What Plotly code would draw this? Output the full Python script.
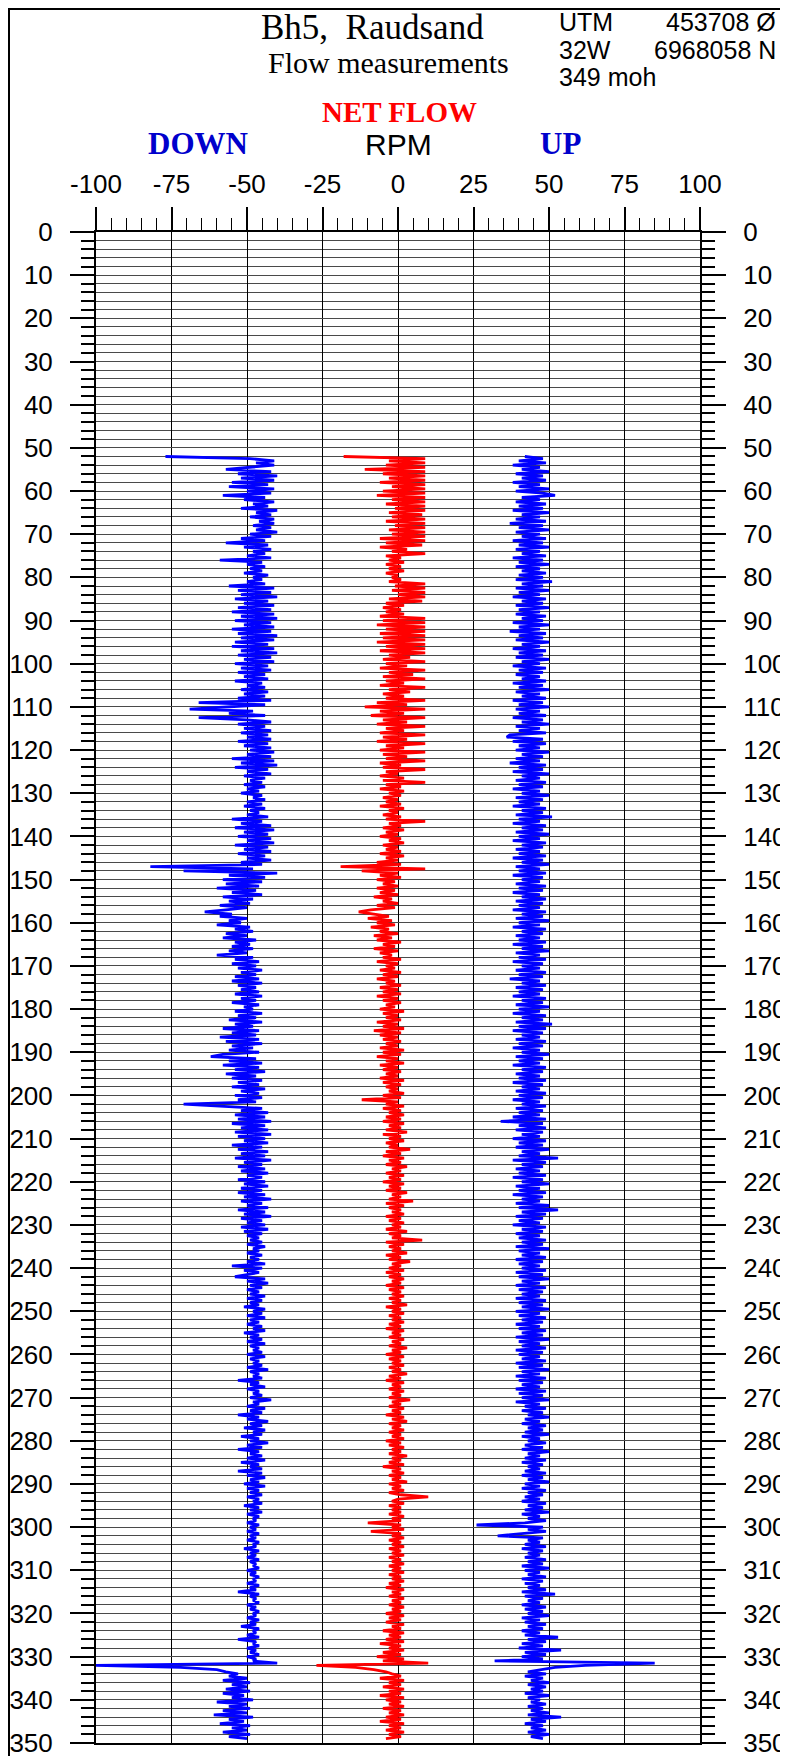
import plotly.graph_objects as go

# depth sampling of the logs (m)
depth_start = 52.0
depth_step = 0.5

# DOWN flow, RPM
down_rpm = [
    -77, -49, -41, -47, -41, -49, -57, -42, -53, -40,
    -52, -41, -55, -43, -56, -41, -50, -42, -58, -44,
    -51, -41, -48, -43, -52, -40, -47, -42, -49, -41,
    -46, -41, -48, -42, -47, -40, -49, -42, -52, -44,
    -57, -43, -51, -42, -48, -44, -50, -42, -59, -45,
    -50, -44, -49, -45, -51, -43, -48, -45, -50, -44,
    -56, -41, -53, -42, -52, -40, -54, -43, -51, -41,
    -53, -42, -55, -41, -52, -40, -54, -42, -51, -41,
    -55, -42, -53, -40, -52, -41, -54, -43, -55, -41,
    -52, -40, -53, -42, -51, -41, -54, -43, -52, -42,
    -53, -44, -51, -43, -54, -45, -50, -44, -52, -43,
    -51, -44, -53, -42, -66, -44, -55, -69, -48, -56,
    -44, -66, -50, -42, -53, -44, -51, -42, -52, -43,
    -50, -42, -53, -43, -51, -42, -49, -41, -50, -42,
    -55, -41, -52, -40, -54, -43, -50, -42, -51, -44,
    -49, -45, -51, -44, -50, -46, -52, -45, -48, -44,
    -50, -45, -51, -44, -49, -46, -50, -43, -55, -45,
    -52, -42, -54, -41, -51, -43, -53, -42, -50, -41,
    -54, -43, -51, -42, -53, -44, -50, -42, -52, -45,
    -82, -48, -71, -40, -56, -44, -58, -45, -57, -46,
    -60, -47, -55, -45, -58, -48, -56, -49, -59, -50,
    -57, -64, -55, -59, -50, -56, -52, -60, -49, -54,
    -48, -57, -50, -58, -47, -54, -49, -55, -48, -56,
    -50, -60, -48, -54, -46, -55, -47, -53, -45, -52,
    -47, -54, -46, -55, -45, -53, -47, -52, -46, -54,
    -45, -52, -47, -55, -46, -51, -48, -54, -45, -53,
    -47, -56, -45, -54, -48, -58, -46, -55, -47, -59,
    -46, -57, -45, -55, -48, -56, -46, -58, -62, -47,
    -56, -45, -58, -46, -54, -44, -57, -47, -55, -45,
    -53, -46, -55, -44, -52, -46, -54, -45, -53, -47,
    -71, -58, -45, -52, -43, -54, -44, -53, -42, -55,
    -44, -52, -43, -54, -42, -53, -44, -51, -43, -55,
    -45, -53, -43, -52, -44, -54, -42, -51, -45, -53,
    -44, -52, -43, -50, -45, -53, -44, -51, -43, -52,
    -45, -53, -44, -51, -42, -52, -45, -50, -43, -53,
    -44, -51, -42, -52, -45, -50, -44, -52, -43, -51,
    -45, -50, -46, -49, -45, -50, -44, -48, -46, -50,
    -45, -49, -46, -50, -44, -55, -45, -51, -46, -50,
    -54, -44, -50, -43, -49, -45, -50, -46, -49, -44,
    -50, -45, -49, -46, -51, -44, -48, -45, -50, -44,
    -49, -46, -50, -45, -48, -44, -51, -46, -49, -45,
    -50, -44, -49, -46, -48, -45, -50, -44, -49, -46,
    -48, -45, -50, -43, -49, -46, -48, -45, -53, -46,
    -49, -44, -50, -46, -48, -45, -49, -42, -48, -46,
    -50, -44, -49, -45, -53, -46, -50, -43, -49, -45,
    -51, -44, -48, -45, -52, -46, -49, -43, -50, -45,
    -53, -46, -49, -45, -50, -44, -52, -46, -49, -45,
    -53, -45, -50, -44, -49, -46, -51, -44, -50, -46,
    -49, -45, -50, -46, -48, -45, -51, -46, -49, -45,
    -50, -46, -48, -47, -50, -46, -49, -47, -50, -46,
    -49, -47, -50, -46, -48, -47, -51, -46, -49, -47,
    -50, -46, -49, -47, -48, -46, -50, -47, -49, -46,
    -48, -47, -50, -46, -49, -47, -53, -46, -49, -47,
    -48, -46, -50, -47, -49, -46, -48, -47, -50, -46,
    -49, -47, -52, -46, -48, -47, -50, -46, -53, -47,
    -48, -46, -50, -47, -49, -46, -50, -47, -48, -40,
    -100, -72, -60, -57, -53, -56, -50, -58, -49, -55,
    -50, -57, -49, -58, -51, -55, -48, -60, -50, -56,
    -49, -58, -50, -61, -48, -56, -51, -59, -49, -55,
    -50, -58, -49, -56, -50,
]

# NET FLOW, RPM
net_rpm = [
    -18, 9, -3, 9, -4, 9, -11, 9, -5, 9,
    -3, 9, -6, 9, -2, 9, -5, 9, -7, 9,
    -2, 9, -4, 9, -1, 9, -3, 8, -2, 9,
    -4, 9, -1, 9, -3, 9, -2, 9, -6, 9,
    -4, 8, -6, 3, -2, 9, -4, 1, -3, 2,
    -4, 1, -3, 2, -4, 0, -2, 1, -3, 9,
    -1, 9, -2, 9, 0, 9, -3, 8, -4, 2,
    -5, 1, -4, 2, -6, 9, -5, 9, -7, 9,
    -4, 9, -6, 9, -5, 9, -7, 9, -4, 9,
    -6, 9, -3, 4, -5, 9, -4, 3, -6, 9,
    -3, 5, -5, 9, -4, 2, -6, 9, -3, 4,
    -5, 2, -4, 9, -7, 3, -11, 9, -6, 2,
    -9, 9, -5, 3, -7, 9, -4, 2, -6, 9,
    -5, 3, -7, 9, -4, 2, -6, 9, -5, 3,
    -4, 9, -6, 1, -5, 9, -4, 0, -6, 2,
    -5, 9, -4, 1, -6, 2, -3, 1, -5, 0,
    -4, 1, -6, 2, -3, 0, -5, 1, -4, 9,
    -3, 1, -5, 2, -4, 0, -6, 1, -3, 2,
    -5, 0, -4, 1, -6, 2, -4, 0, -7, 1,
    -19, 9, -12, 0, -6, 1, -7, -1, -5, 0,
    -7, -1, -6, 0, -8, -2, -5, 0, -7, -1,
    -9, -13, -8, -3, -10, -2, -7, -1, -9, -3,
    -6, 0, -8, -2, -7, 1, -5, -1, -8, 0,
    -6, -2, -5, 1, -7, 0, -4, -1, -6, 1,
    -5, 0, -7, -1, -4, 1, -6, 0, -5, 1,
    -7, 0, -5, 1, -4, -1, -6, 2, -5, 0,
    -4, 1, -7, 0, -5, 2, -8, 1, -6, 0,
    -5, 1, -4, 0, -6, 2, -5, 1, -7, 0,
    -4, 2, -6, 0, -5, 1, -4, 0, -6, 2,
    -5, 1, -4, 0, -3, 2, -5, 1, -12, 0,
    -4, 2, -5, 1, -3, 2, -4, 1, -5, 2,
    -3, 1, -4, 3, -5, 1, -3, 2, -4, 0,
    -3, 4, -4, 1, -5, 2, -3, 1, -4, 3,
    -2, 1, -4, 2, -3, 1, -5, 2, -3, 1,
    -4, 3, -2, 1, -3, 5, -4, 2, -3, 1,
    -2, 2, -4, 1, -3, 2, -2, 1, -4, 3,
    -3, 1, -2, 8, -4, 2, -3, 1, -2, 3,
    -4, 1, -3, 4, -2, 1, -3, 2, -4, 1,
    -3, 2, -2, 1, -4, 2, -3, 1, -2, 2,
    -3, 1, -2, 3, -4, 1, -2, 2, -3, 1,
    -2, 2, -3, 1, -4, 2, -2, 1, -3, 2,
    -2, 1, -3, 3, -2, 1, -4, 2, -3, 1,
    -2, 2, -3, 1, -2, 3, -3, 1, -4, 2,
    -2, 1, -3, 2, -2, 1, -3, 4, -2, 1,
    -3, 2, -2, 1, -4, 2, -2, 3, -3, 1,
    -2, 2, -3, 1, -2, 2, -4, 1, -3, 2,
    -2, 1, -3, 3, -2, 1, -3, 2, -5, 1,
    -2, 2, -3, 1, -2, 3, -3, 1, -2, 2,
    -3, 1, 10, 0, -2, 2, -3, 1, -2, 1,
    -3, 2, -2, 1, -10, 1, -2, 2, -9, 1,
    -2, 2, -3, 1, -2, 2, -3, 1, -2, 2,
    -3, 1, -2, 2, -3, 1, -2, 2, -3, 1,
    -2, 2, -3, 1, -4, 2, -2, 1, -3, 2,
    -2, 1, -3, 2, -2, 1, -4, 2, -3, 1,
    -4, 2, -2, 1, -5, 2, -3, 1, -4, 2,
    -6, 1, -3, 2, -5, 1, -7, 2, -5, 10,
    -27, -14, -8, -4, -2, 1, -6, 2, -3, 1,
    -5, 2, -3, 1, -6, 2, -4, 1, -3, 2,
    -5, 1, -3, 2, -4, 1, -6, 2, -3, 1,
    -4, 2, -3, 1, -4,
]

# UP flow, RPM
up_rpm = [
    42, 48, 40, 49, 38, 47, 41, 50, 39, 48,
    41, 49, 38, 47, 40, 50, 39, 48, 52, 41,
    47, 39, 49, 40, 48, 38, 50, 41, 47, 39,
    49, 37, 48, 40, 50, 39, 47, 41, 49, 38,
    48, 40, 50, 39, 47, 41, 49, 38, 48, 40,
    50, 39, 47, 41, 49, 40, 48, 39, 51, 41,
    48, 39, 50, 40, 47, 38, 49, 41, 48, 39,
    50, 40, 47, 39, 49, 41, 48, 38, 50, 40,
    47, 37, 49, 40, 48, 39, 50, 41, 47, 38,
    49, 40, 48, 39, 50, 41, 47, 38, 49, 40,
    48, 39, 47, 41, 49, 38, 48, 40, 50, 39,
    47, 41, 49, 38, 48, 40, 50, 39, 47, 40,
    49, 38, 48, 41, 50, 39, 47, 40, 49, 37,
    36, 48, 38, 49, 40, 47, 39, 50, 41, 48,
    39, 47, 37, 49, 40, 48, 38, 50, 41, 47,
    39, 49, 40, 48, 38, 47, 41, 50, 39, 48,
    40, 47, 38, 49, 41, 48, 39, 51, 40, 47,
    38, 49, 41, 48, 39, 50, 40, 47, 38, 49,
    41, 48, 39, 47, 40, 49, 38, 48, 41, 50,
    39, 47, 40, 49, 38, 48, 41, 47, 39, 49,
    40, 48, 38, 47, 41, 49, 39, 48, 40, 47,
    38, 49, 41, 48, 39, 50, 40, 47, 38, 49,
    41, 48, 39, 47, 40, 49, 38, 48, 41, 50,
    39, 47, 40, 49, 38, 48, 41, 47, 39, 49,
    40, 48, 37, 47, 41, 49, 39, 48, 40, 47,
    38, 49, 41, 48, 39, 50, 40, 47, 38, 49,
    41, 48, 39, 51, 40, 49, 38, 48, 41, 47,
    39, 49, 40, 48, 38, 47, 41, 50, 39, 48,
    40, 47, 38, 49, 41, 48, 39, 47, 40, 49,
    38, 48, 41, 47, 39, 49, 40, 48, 38, 47,
    41, 49, 39, 48, 40, 47, 38, 49, 34, 48,
    40, 49, 39, 48, 41, 47, 38, 49, 40, 48,
    39, 50, 41, 47, 40, 53, 38, 49, 41, 48,
    39, 47, 40, 49, 38, 48, 41, 50, 39, 47,
    40, 49, 38, 48, 41, 47, 39, 50, 40, 53,
    41, 49, 39, 48, 40, 47, 38, 49, 41, 48,
    39, 47, 40, 49, 41, 48, 39, 50, 40, 47,
    41, 49, 39, 48, 40, 47, 41, 49, 39, 48,
    40, 50, 41, 47, 39, 49, 40, 48, 41, 47,
    39, 49, 40, 48, 41, 50, 39, 47, 40, 49,
    41, 48, 39, 47, 40, 49, 41, 48, 39, 50,
    40, 47, 41, 49, 39, 48, 40, 47, 41, 49,
    39, 48, 40, 50, 41, 47, 39, 49, 40, 48,
    41, 47, 39, 49, 40, 48, 41, 50, 39, 47,
    42, 49, 41, 48, 43, 50, 42, 47, 41, 49,
    43, 48, 42, 50, 41, 47, 43, 49, 42, 48,
    41, 50, 43, 47, 42, 49, 41, 48, 43, 47,
    42, 49, 41, 48, 43, 50, 42, 47, 41, 49,
    43, 48, 42, 47, 41, 49, 43, 48, 42, 50,
    41, 47, 43, 49, 42, 26, 48, 43, 49, 42,
    33, 48, 43, 47, 42, 49, 41, 48, 43, 47,
    42, 49, 43, 48, 41, 50, 42, 47, 43, 49,
    41, 48, 42, 47, 43, 49, 41, 52, 42, 48,
    43, 47, 41, 49, 42, 48, 43, 50, 41, 47,
    42, 49, 43, 48, 41, 47, 42, 53, 43, 49,
    41, 48, 40, 54, 42, 49, 41, 48, 32, 85,
    62, 52, 47, 43, 49, 42, 48, 44, 50, 43,
    49, 44, 48, 42, 50, 43, 47, 44, 49, 43,
    48, 44, 50, 43, 54, 44, 49, 42, 48, 44,
    49, 43, 50, 44, 48,
]

depth = [depth_start + i * depth_step for i in range(len(down_rpm))]

x_ticks = [-100, -75, -50, -25, 0, 25, 50, 75, 100]
x_ticktext = ["-100", "-75", "-50", "-25", "0", "25", "50", "75", "100"]
depth_ticks = list(range(0, 351, 10))

# the page body has an 8 px margin, so the figure starts 8 px in
OFF = 8
W, H = 780, 1748
ML, MR, MT, MB = 88, 88, 224, 13
SERIF = "Liberation Serif, Times New Roman, serif"
SANS = "Liberation Sans, Arial, sans-serif"


def px(xp):
    # page pixel -> paper x
    return (xp - OFF - ML) / (W - ML - MR)


def py(yp):
    # page pixel -> paper y
    return 1 - (yp - OFF - MT) / (H - MT - MB)


fig = go.Figure()
fig.add_trace(go.Scatter(x=down_rpm, y=depth, mode="lines",
                         line=dict(color="#0000ff", width=2.8), hoverinfo="skip"))
fig.add_trace(go.Scatter(x=net_rpm, y=depth, mode="lines",
                         line=dict(color="#ff0000", width=2.8), hoverinfo="skip"))
fig.add_trace(go.Scatter(x=up_rpm, y=depth, mode="lines",
                         line=dict(color="#0000ff", width=2.8), hoverinfo="skip"))
# carrier for the right hand depth axis
fig.add_trace(go.Scatter(x=[0], y=[0], yaxis="y2", mode="markers",
                         marker=dict(opacity=0), hoverinfo="skip"))

tick_font = dict(family=SANS, size=26, color="black")

fig.update_layout(
    width=W, height=H,
    margin=dict(l=ML, r=MR, t=MT, b=MB, autoexpand=False),
    paper_bgcolor="white", plot_bgcolor="white",
    showlegend=False,
    font=dict(family=SANS, color="black"),
    xaxis=dict(
        range=[-100, 100], side="top", tickvals=x_ticks, ticktext=x_ticktext,
        automargin=False, ticklabeloverflow="allow",
        ticks="outside", ticklen=23, tickwidth=1.5, tickcolor="black",
        ticklabelstandoff=4, tickfont=tick_font,
        showline=True, linewidth=2, linecolor="black", mirror=True,
        showgrid=True, gridcolor="black", gridwidth=1, zeroline=False,
        minor=dict(dtick=5, ticks="outside", ticklen=12, tickwidth=1,
                   tickcolor="black", showgrid=False),
    ),
    yaxis=dict(
        range=[350, 0], tickvals=depth_ticks,
        automargin=False, ticklabeloverflow="allow",
        ticks="outside", ticklen=24, tickwidth=1.5, tickcolor="black",
        ticklabelstandoff=12, tickfont=tick_font,
        showline=True, linewidth=2, linecolor="black",
        showgrid=True, gridcolor="#4a4a4a", gridwidth=1, zeroline=False,
        minor=dict(dtick=2, ticks="outside", ticklen=13, tickwidth=1.5,
                   tickcolor="black", showgrid=True, gridcolor="#4a4a4a",
                   gridwidth=1),
    ),
    yaxis2=dict(
        range=[350, 0], overlaying="y", side="right", tickvals=depth_ticks,
        automargin=False, ticklabeloverflow="allow",
        ticks="outside", ticklen=24, tickwidth=1.5, tickcolor="black",
        ticklabelstandoff=12, tickfont=tick_font,
        showline=True, linewidth=2, linecolor="black",
        showgrid=False, zeroline=False,
        minor=dict(dtick=2, ticks="outside", ticklen=13, tickwidth=1.5,
                   tickcolor="black", showgrid=False),
    ),
)

# outer frame
fig.add_shape(type="rect", xref="paper", yref="paper",
              x0=px(9), x1=px(785), y0=py(1770), y1=py(9),
              line=dict(color="black", width=2), fillcolor="rgba(0,0,0,0)")


def label(text, x, y, size, family, color="black", xanchor="center", bold=False):
    if bold:
        text = "<b>" + text + "</b>"
    fig.add_annotation(text=text, x=px(x), y=py(y), xref="paper", yref="paper",
                       xanchor=xanchor, yanchor="middle", showarrow=False,
                       font=dict(family=family, size=size, color=color))


label("Bh5,\u00a0 Raudsand", 372, 27, 35, SERIF)
label("Flow measurements", 388, 62, 30, SERIF)
label("UTM", 557, 22, 25, SANS, xanchor="left")
label("453708 Ø", 778, 22, 25, SANS, xanchor="right")
label("32W", 557, 50, 25, SANS, xanchor="left")
label("6968058 N", 778, 50, 25, SANS, xanchor="right")
label("349 moh", 557, 77, 25, SANS, xanchor="left")
label("NET FLOW", 399, 112, 29, SERIF, color="#ff0000", bold=True)
label("DOWN", 198, 144, 31, SERIF, color="#0000cc", bold=True)
label("RPM", 398, 145, 30, SANS)
label("UP", 560, 144, 31, SERIF, color="#0000cc", bold=True)

fig.write_html("out.html")
